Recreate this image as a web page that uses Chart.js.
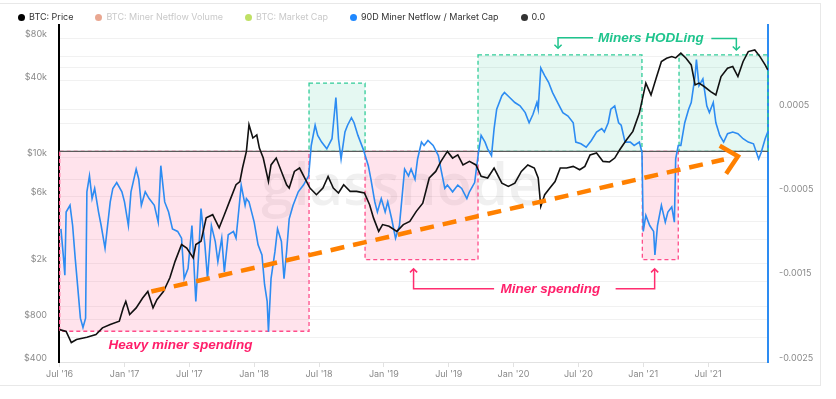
<!DOCTYPE html>
<html>
<head>
<meta charset="utf-8">
<script src="https://cdn.jsdelivr.net/npm/chart.js@4.4.0/dist/chart.umd.min.js"></script>
<style>
  body { margin: 0; background: #fff; font-family: Inter, "Liberation Sans", sans-serif; }
  #wrap { position: relative; width: 836px; height: 399px; overflow: hidden; }
  #card { position: absolute; left: -1px; top: 3px; width: 822px; height: 383px; border: 1px solid #e8e8e8; box-sizing: border-box; }
  #chart { position: absolute; left: 0; top: 0; }
  #legend { position: absolute; left: 18px; top: 11px; display: flex; gap: 22px; font-size: 9px; line-height: 12px; color: #333; }
  #legend span { display: inline-flex; align-items: center; gap: 4px; white-space: nowrap; }
  #legend i { width: 7px; height: 7px; border-radius: 50%; display: inline-block; }
  #legend .off { color: #c9c9c9; }
</style>
</head>
<body>
<div id="wrap">
  <div id="card"></div>
  <canvas id="chart" width="836" height="399"></canvas>
  <div id="legend"></div>
</div>
<script>
'use strict'

// DATA - decimal years
var priceDates = [2016.50, 2016.55, 2016.59, 2016.63, 2016.71, 2016.78, 2016.83, 2016.89, 2016.96, 2016.99,
  2017.01, 2017.04, 2017.09, 2017.14, 2017.18, 2017.22, 2017.25, 2017.30, 2017.35, 2017.39,
  2017.44, 2017.48, 2017.53, 2017.55, 2017.59, 2017.63, 2017.68, 2017.73, 2017.77, 2017.81,
  2017.86, 2017.89, 2017.91, 2017.94, 2017.96, 2017.99, 2018.02, 2018.04, 2018.07, 2018.11,
  2018.13, 2018.17, 2018.21, 2018.25, 2018.27, 2018.31, 2018.35, 2018.39, 2018.43, 2018.48,
  2018.53, 2018.57, 2018.61, 2018.65, 2018.69, 2018.74, 2018.79, 2018.85, 2018.89, 2018.92,
  2018.96, 2018.99, 2019.04, 2019.10, 2019.15, 2019.20, 2019.25, 2019.30, 2019.35, 2019.40,
  2019.44, 2019.49, 2019.53, 2019.57, 2019.61, 2019.66, 2019.71, 2019.75, 2019.80, 2019.85,
  2019.91, 2019.96, 2020.01, 2020.06, 2020.11, 2020.16, 2020.19, 2020.21, 2020.24, 2020.28,
  2020.32, 2020.36, 2020.41, 2020.46, 2020.51, 2020.55, 2020.59, 2020.64, 2020.69, 2020.74,
  2020.78, 2020.82, 2020.87, 2020.92, 2020.97, 2021.02, 2021.06, 2021.10, 2021.14, 2021.18,
  2021.22, 2021.25, 2021.29, 2021.33, 2021.37, 2021.40, 2021.43, 2021.47, 2021.52, 2021.56,
  2021.60, 2021.65, 2021.69, 2021.73, 2021.77, 2021.81, 2021.86, 2021.90, 2021.94, 2021.96];
var priceValues = [680, 660, 550, 578, 600, 627, 700, 740, 780, 970,
  1080, 870, 970, 1140, 1270, 970, 1110, 1270, 1590, 2080,
  2740, 2590, 2200, 2740, 2890, 4240, 4470, 3600, 4470, 5560,
  7300, 7700, 9600, 12600, 19500, 15700, 16500, 13300, 11300, 7700,
  10100, 11300, 9080, 7300, 6920, 9080, 9600, 8150, 6920, 6200,
  6920, 8370, 6920, 6380, 7300, 6550, 6550, 6380, 5260, 4240,
  3400, 3800, 3700, 3400, 3800, 4000, 4720, 5400, 8150, 9080,
  10700, 12600, 11300, 11900, 10100, 10700, 10100, 8370, 8150, 9600,
  7500, 7100, 7500, 9080, 10100, 9600, 8150, 5120, 6200, 6920,
  7700, 9600, 9600, 9860, 9330, 9860, 11900, 12300, 10700, 10600,
  11300, 13000, 15200, 17500, 23600, 38600, 31800, 41900, 55000, 58000,
  59600, 58300, 63000, 58000, 52000, 37500, 38600, 36500, 33600, 31800,
  43000, 49300, 50600, 43000, 55000, 64700, 66500, 59600, 52000, 48000];

// 90D miner netflow / market cap, in units of 1e-4
var flowDates = [2016.51, 2016.53, 2016.54, 2016.55, 2016.58, 2016.60, 2016.62, 2016.64, 2016.66, 2016.68,
  2016.70, 2016.71, 2016.73, 2016.75, 2016.77, 2016.80, 2016.82, 2016.85, 2016.89, 2016.91,
  2016.94, 2016.98, 2017.00, 2017.03, 2017.05, 2017.09, 2017.11, 2017.13, 2017.16, 2017.19,
  2017.23, 2017.26, 2017.28, 2017.31, 2017.34, 2017.37, 2017.41, 2017.44, 2017.46, 2017.49,
  2017.52, 2017.55, 2017.57, 2017.59, 2017.62, 2017.64, 2017.67, 2017.70, 2017.72, 2017.75,
  2017.77, 2017.80, 2017.84, 2017.86, 2017.88, 2017.90, 2017.93, 2017.94, 2017.96, 2018.00,
  2018.03, 2018.06, 2018.08, 2018.10, 2018.11, 2018.13, 2018.16, 2018.18, 2018.21, 2018.23,
  2018.25, 2018.27, 2018.30, 2018.34, 2018.38, 2018.42, 2018.44, 2018.47, 2018.49, 2018.52,
  2018.56, 2018.60, 2018.63, 2018.65, 2018.67, 2018.70, 2018.72, 2018.75, 2018.77, 2018.80,
  2018.84, 2018.88, 2018.90, 2018.93, 2018.95, 2018.98, 2019.01, 2019.03, 2019.06, 2019.09,
  2019.12, 2019.16, 2019.19, 2019.21, 2019.24, 2019.26, 2019.29, 2019.31, 2019.34, 2019.38,
  2019.42, 2019.44, 2019.47, 2019.49, 2019.53, 2019.57, 2019.60, 2019.64, 2019.66, 2019.70,
  2019.73, 2019.75, 2019.78, 2019.80, 2019.83, 2019.85, 2019.87, 2019.91, 2019.93, 2019.97,
  2020.01, 2020.05, 2020.09, 2020.12, 2020.15, 2020.18, 2020.19, 2020.21, 2020.24, 2020.27,
  2020.30, 2020.34, 2020.38, 2020.42, 2020.46, 2020.48, 2020.52, 2020.56, 2020.60, 2020.64,
  2020.68, 2020.70, 2020.73, 2020.75, 2020.78, 2020.81, 2020.83, 2020.86, 2020.90, 2020.93,
  2020.97, 2020.99, 2021.00, 2021.02, 2021.05, 2021.08, 2021.09, 2021.11, 2021.14, 2021.17,
  2021.19, 2021.22, 2021.24, 2021.25, 2021.27, 2021.29, 2021.32, 2021.35, 2021.37, 2021.40,
  2021.41, 2021.43, 2021.46, 2021.49, 2021.51, 2021.54, 2021.56, 2021.59, 2021.62, 2021.65,
  2021.69, 2021.73, 2021.77, 2021.81, 2021.85, 2021.89, 2021.91, 2021.94, 2021.96];
var flowValues = [-9.2, -12.7, -14.7, -7.2, -6.4, -8.8, -12.7, -16.2, -19.8, -20.9,
  -19.8, -4.8, -2.9, -5.6, -4.4, -7.2, -8.8, -11.5, -6.0, -4.4,
  -3.7, -4.8, -6.0, -8.8, -4.8, -2.1, -3.3, -6.4, -4.8, -5.6,
  -6.4, -8.4, -1.7, -6.0, -7.2, -9.2, -9.5, -10.3, -15.1, -13.9,
  -8.8, -17.8, -12.7, -6.8, -11.1, -15.1, -8.8, -10.7, -13.1, -10.3,
  -14.3, -9.9, -9.5, -10.3, -7.2, -4.0, -6.4, -5.6, -6.0, -8.4,
  -11.1, -12.3, -15.8, -17.8, -21.4, -15.1, -11.9, -9.2, -10.7, -15.1,
  -11.9, -8.0, -6.4, -4.8, -4.0, -2.9, 0.7, 3.1, 1.9, 1.1,
  0.3, 1.5, 6.4, 1.5, -0.9, 2.3, 3.1, 4.0, 3.4, 1.9,
  0.3, -1.7, -3.3, -6.0, -7.2, -5.6, -7.2, -6.0, -8.0, -10.3,
  -8.8, -2.1, -2.9, -2.1, -3.3, -0.9, 1.1, 0.7, 1.3, 0.7,
  -0.5, -2.1, -4.4, -4.0, -4.8, -4.0, -4.4, -5.6, -4.8, -3.7,
  -0.1, 1.9, 1.1, 0.3, -0.5, 2.7, 5.0, 6.6, 7.0, 6.4,
  5.8, 5.4, 4.6, 3.4, 4.4, 5.8, 5.0, 9.9, 9.0, 8.2,
  7.0, 5.8, 4.6, 4.2, 3.4, 1.1, 0.9, 0.5, 1.3, 2.3,
  2.7, 2.3, 3.4, 5.0, 5.4, 3.4, 3.1, 1.1, 1.1, 0.7,
  1.1, -0.1, -9.5, -7.6, -8.8, -9.5, -12.3, -8.8, -6.4, -8.4,
  -7.2, -6.6, -8.4, -0.9, 0.7, 0.7, 3.4, 5.0, 5.8, 9.0,
  10.9, 7.8, 8.6, 5.4, 4.6, 5.8, 3.4, 1.9, 1.1, 2.1,
  2.3, 2.1, 1.5, 1.1, 0.9, -0.9, -0.1, 1.5, 2.3];

var xTickValues = [2016.5, 2017, 2017.5, 2018, 2018.5, 2019, 2019.5, 2020, 2020.5, 2021, 2021.5];
var xTickLabels = ["Jul '16", "Jan '17", "Jul '17", "Jan '18", "Jul '18", "Jan '19", "Jul '19", "Jan '20", "Jul '20", "Jan '21", "Jul '21"];
var priceTickValues = [400, 800, 2000, 6000, 11500, 40000, 80000];
var priceTickLabels = ['$400', '$800', '$2k', '$6k', '$10k', '$40k', '$80k'];
var priceGridValues = [600, 1000, 1500, 3000, 4000, 8000, 20000, 25000, 50000, 60000];
var flowTickValues = [-0.0025, -0.0015, -0.0005, 0.0005];

var X_MIN = 2016.495, X_MAX = 2021.962;

// legend
var legendItems = [
	{ text: 'BTC: Price', color: '#000', off: false },
	{ text: 'BTC: Miner Netflow Volume', color: '#e28a6c', off: true },
	{ text: 'BTC: Market Cap', color: '#a9d631', off: true },
	{ text: '90D Miner Netflow / Market Cap', color: '#1f88ff', off: false },
	{ text: '0.0', color: '#333', off: false }
];
var legendEl = document.getElementById('legend');
legendItems.forEach(function(it) {
	var s = document.createElement('span');
	if (it.off) s.className = 'off';
	var dot = document.createElement('i');
	dot.style.background = it.color;
	if (it.off) dot.style.opacity = 0.75;
	s.appendChild(dot);
	s.appendChild(document.createTextNode(it.text));
	legendEl.appendChild(s);
});

// ANNOTATIONS (x in years, y in 1e-4 of the right axis)
var pinkBoxes = [[2016.50, 2018.423, -21.35], [2018.855, 2019.726, -12.85], [2020.993, 2021.270, -12.85]];
var greenBoxes = [[2018.423, 2018.855, 8.09], [2019.726, 2020.990, 11.45], [2021.276, 2021.962, 11.45]];

var annotations = {
	id: 'annotations',
	beforeDatasetsDraw: function(chart) {
		var c = chart.ctx, X = function(v) { return chart.scales.x.getPixelForValue(v); },
			Y = function(v) { return chart.scales.y1.getPixelForValue(v * 1e-4); };
		c.save();
		// watermark
		c.font = '600 58px "Open Sans"';
		c.fillStyle = 'rgba(0,0,0,0.06)';
		c.textAlign = 'center';
		c.textBaseline = 'alphabetic';
		c.fillText('glassnode', X(2019.135), Y(-6.33));

		c.lineWidth = 1.3;
		c.setLineDash([4, 3]);
		pinkBoxes.forEach(function(b) {
			var x0 = X(b[0]), x1 = X(b[1]), y0 = Y(0), y1 = Y(b[2]);
			c.fillStyle = 'rgba(255,90,140,0.17)';
			c.fillRect(x0, y0, x1 - x0, y1 - y0);
			c.strokeStyle = '#ff4d8a';
			c.strokeRect(x0, y0, x1 - x0, y1 - y0);
		});
		greenBoxes.forEach(function(b) {
			var x0 = X(b[0]), x1 = X(b[1]), y0 = Y(0), y1 = Y(b[2]);
			c.fillStyle = 'rgba(40,195,150,0.12)';
			c.fillRect(x0, y0, x1 - x0, y1 - y0);
			c.strokeStyle = '#30cc98';
			c.strokeRect(x0, y0, x1 - x0, y1 - y0);
		});
		c.restore();
	},
	afterDatasetsDraw: function(chart) {
		var c = chart.ctx, X = function(v) { return chart.scales.x.getPixelForValue(v); },
			Y = function(v) { return chart.scales.y1.getPixelForValue(v * 1e-4); };
		c.save();

		// orange trend arrow
		var sx = X(2017.207), sy = Y(-16.64), ex = X(2021.73), ey = Y(-0.58);
		c.strokeStyle = '#ff8000';
		c.lineWidth = 4.5;
		c.setLineDash([14, 9]);
		c.beginPath();
		c.moveTo(sx, sy);
		c.lineTo(ex - 14, ey + 3.2);
		c.stroke();
		c.setLineDash([]);
		var ang = Math.atan2(ey - sy, ex - sx);
		c.beginPath();
		c.moveTo(ex + 21 * Math.cos(ang + Math.PI + 0.75), ey + 21 * Math.sin(ang + Math.PI + 0.75));
		c.lineTo(ex, ey);
		c.lineTo(ex + 21 * Math.cos(ang + Math.PI - 0.75), ey + 21 * Math.sin(ang + Math.PI - 0.75));
		c.stroke();

		// callouts
		function callout(pts, color) {
			c.strokeStyle = color;
			c.lineWidth = 1.5;
			c.beginPath();
			pts.forEach(function(p, i) {
				if (i === 0) c.moveTo(X(p[0]), Y(p[1])); else c.lineTo(X(p[0]), Y(p[1]));
			});
			c.stroke();
			var a = pts[pts.length - 2], b = pts[pts.length - 1];
			var tx = X(b[0]), ty = Y(b[1]);
			var an = Math.atan2(ty - Y(a[1]), tx - X(a[0]));
			c.beginPath();
			c.moveTo(tx + 5 * Math.cos(an + Math.PI + 0.8), ty + 5 * Math.sin(an + Math.PI + 0.8));
			c.lineTo(tx, ty);
			c.lineTo(tx + 5 * Math.cos(an + Math.PI - 0.8), ty + 5 * Math.sin(an + Math.PI - 0.8));
			c.stroke();
		}
		callout([[2019.85, -16.32], [2019.229, -16.32], [2019.229, -13.95]], '#ff2d6f');
		callout([[2020.787, -16.32], [2021.088, -16.32], [2021.088, -13.95]], '#ff2d6f');
		callout([[2020.613, 13.5], [2020.343, 13.5], [2020.343, 12.24]], '#1fc48d');
		callout([[2021.525, 13.4], [2021.718, 13.4], [2021.718, 12.04]], '#1fc48d');

		c.font = 'italic bold 13.5px "Liberation Sans"';
		c.textAlign = 'left';
		c.textBaseline = 'middle';
		c.fillStyle = '#ff1f6a';
		c.fillText('Heavy miner spending', X(2016.876), Y(-23.04));
		c.fillText('Miner spending', X(2019.90), Y(-16.32));
		c.fillStyle = '#1fc48d';
		c.fillText('Miners HODLing', X(2020.651), Y(13.43));
		c.restore();
	}
};

var tickFont = { family: 'Inter', size: 9 };

var ctx = document.getElementById('chart').getContext('2d');
var chart = new Chart(ctx, {
	type: 'line',
	data: {
		datasets: [{
			label: 'BTC: Price',
			data: priceDates.map(function(d, i) { return { x: d, y: priceValues[i] }; }),
			yAxisID: 'y',
			borderColor: '#111',
			borderWidth: 1.6,
			pointRadius: 0
		}, {
			label: '90D Miner Netflow / Market Cap',
			data: flowDates.map(function(d, i) { return { x: d, y: flowValues[i] * 1e-4 }; }),
			yAxisID: 'y1',
			borderColor: '#2d8cf2',
			borderWidth: 1.6,
			pointRadius: 0
		}, {
			label: '0.0',
			data: [{ x: X_MIN, y: 0 }, { x: X_MAX, y: 0 }],
			yAxisID: 'y1',
			borderColor: '#5a5a5a',
			borderWidth: 1.3,
			pointRadius: 0
		}]
	},
	options: {
		responsive: false,
		animation: false,
		layout: { padding: { top: 25, left: 0, right: 0, bottom: 0 } },
		plugins: { legend: { display: false }, tooltip: { enabled: false } },
		scales: {
			x: {
				type: 'linear',
				min: X_MIN,
				max: X_MAX,
				afterBuildTicks: function(s) { s.ticks = xTickValues.map(function(v) { return { value: v }; }); },
				afterFit: function(s) { s.height = 37; },
				ticks: {
					autoSkip: false, maxRotation: 0, padding: 2, font: tickFont, color: '#8a8a8a',
					callback: function(v, i) { return xTickLabels[i]; }
				},
				grid: { drawOnChartArea: false, tickLength: 5, color: '#e2e2e2' },
				border: { color: '#e2e2e2' }
			},
			y: {
				type: 'logarithmic',
				position: 'left',
				min: 400,
				max: 100000,
				afterBuildTicks: function(s) {
					s.ticks = priceTickValues.concat(priceGridValues).sort(function(a, b) { return a - b; })
						.map(function(v) { return { value: v }; });
				},
				afterFit: function(s) { s.width = 59; },
				ticks: {
					padding: 12, labelOffset: -4, font: tickFont, color: '#8a8a8a',
					callback: function(v) {
						var k = priceTickValues.indexOf(v);
						return k >= 0 ? priceTickLabels[k] : '';
					}
				},
				grid: { drawTicks: false, color: '#f1f1f1' },
				border: { color: '#000', width: 2 }
			},
			y1: {
				type: 'linear',
				position: 'right',
				min: -0.0025,
				max: 0.0015,
				afterBuildTicks: function(s) { s.ticks = flowTickValues.map(function(v) { return { value: v }; }); },
				afterFit: function(s) { s.width = 68; },
				ticks: {
					padding: 11, labelOffset: -4, font: tickFont, color: '#8a8a8a',
					callback: function(v) { return String(v); }
				},
				grid: { drawOnChartArea: false, drawTicks: false },
				border: { color: '#2d8cf2', width: 2 }
			}
		}
	},
	plugins: [annotations]
});
</script>
</body>
</html>
